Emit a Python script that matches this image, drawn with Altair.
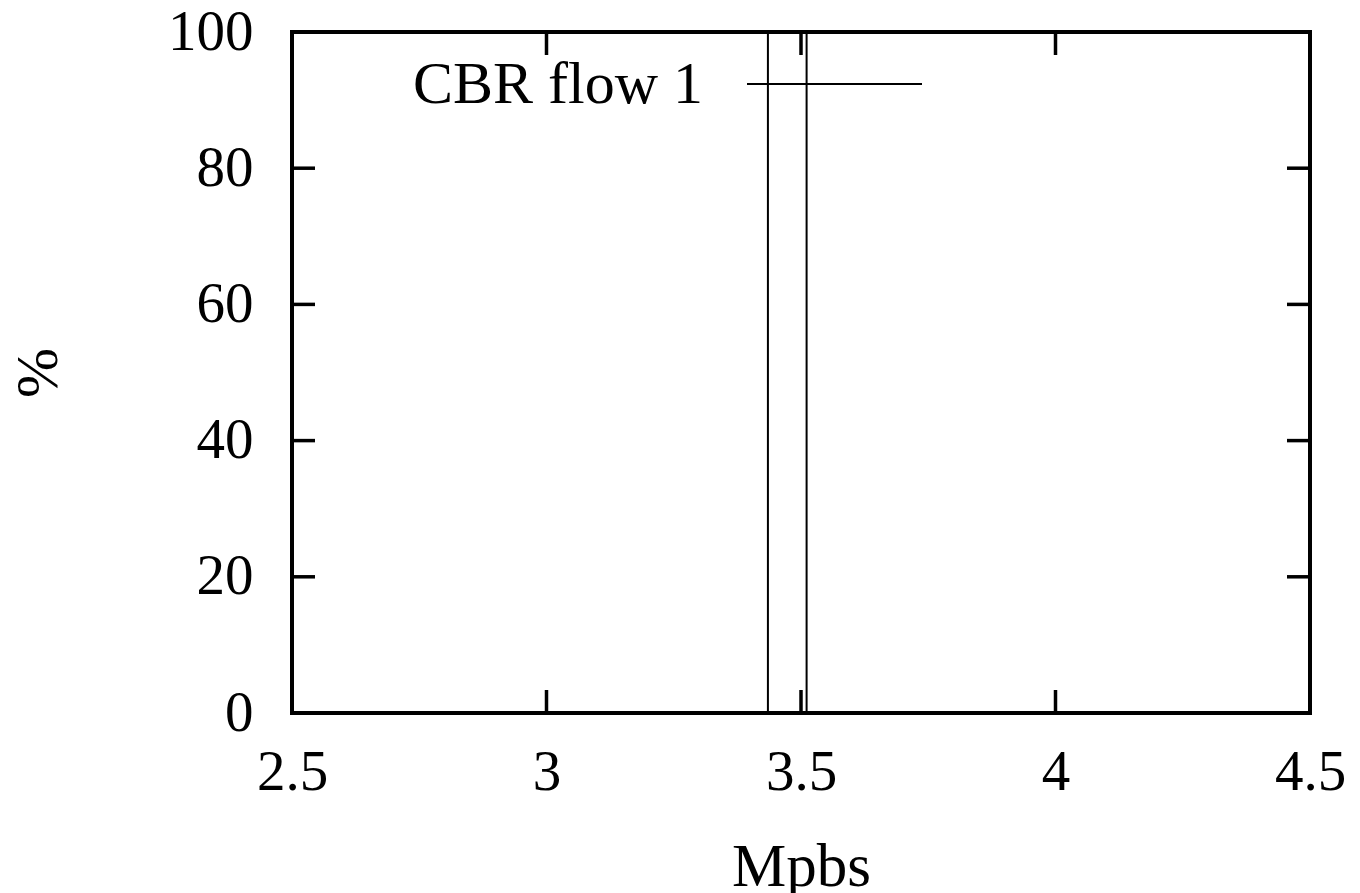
import altair as alt
import pandas as pd

# data
bar_start = [3.435]
bar_end = [3.511]
bar_pct = [100]
series_name = "CBR flow 1"
x_ticks = [2.5, 3.0, 3.5, 4.0, 4.5]
y_ticks = [0, 20, 40, 60, 80, 100]
x_title = "Mpbs"
y_title = "%"

W, H = 1018, 681
FONT = "Liberation Serif"
TICK_LEN = 23

bars = pd.DataFrame({"x": bar_start, "x2": bar_end, "y": bar_pct, "name": [series_name]})
xt = pd.DataFrame({"v": x_ticks})
yt = pd.DataFrame({"v": y_ticks})

xscale = alt.Scale(domain=[2.5, 4.5], nice=False, zero=False)
yscale = alt.Scale(domain=[0, 100], nice=False)

xaxis = alt.Axis(values=x_ticks, labelExpr="datum.value == 3 || datum.value == 4 ? format(datum.value, 'd') : format(datum.value, '.1f')",
                 ticks=False, tickSize=0, domain=False, grid=False,
                 labelFont=FONT, labelFontSize=57, labelColor="black",
                 labelBaseline="alphabetic", labelPadding=76, labelFlush=False,
                 title=x_title, titleFont=FONT, titleFontSize=61, titleFontWeight="normal",
                 titleColor="black", titleBaseline="alphabetic", titleY=172, titleX=W / 2,
                 titleAlign="center")
yaxis = alt.Axis(values=y_ticks, format="d", ticks=False, tickSize=0, domain=False, grid=False,
                 labelFont=FONT, labelFontSize=57, labelColor="black",
                 labelAlign="right", labelBaseline="middle", labelPadding=39, labelFlush=False,
                 title=y_title, titleFont=FONT, titleFontSize=60, titleFontWeight="normal",
                 titleColor="black", titleAngle=-90, titleBaseline="alphabetic",
                 titleX=-236, titleY=H / 2, titleAlign="center")

bar = alt.Chart(bars).mark_rect(filled=False, stroke="black", strokeWidth=2).encode(
    x=alt.X("x:Q", scale=xscale, axis=xaxis),
    x2="x2:Q",
    y=alt.Y("y:Q", scale=yscale, axis=yaxis),
    y2=alt.datum(0),
)

tick_style = dict(color="black", strokeWidth=3.5)
xb = alt.Chart(xt).mark_rule(**tick_style).encode(
    x=alt.X("v:Q", scale=xscale), y=alt.value(H), y2=alt.value(H - TICK_LEN))
xtp = alt.Chart(xt).mark_rule(**tick_style).encode(
    x=alt.X("v:Q", scale=xscale), y=alt.value(0), y2=alt.value(TICK_LEN))
yl = alt.Chart(yt).mark_rule(**tick_style).encode(
    y=alt.Y("v:Q", scale=yscale), x=alt.value(0), x2=alt.value(TICK_LEN))
yr = alt.Chart(yt).mark_rule(**tick_style).encode(
    y=alt.Y("v:Q", scale=yscale), x=alt.value(W), x2=alt.value(W - TICK_LEN))

leg = pd.DataFrame({"name": [series_name]})
leg_text = alt.Chart(leg).mark_text(font=FONT, fontSize=60, align="right", baseline="alphabetic",
                                    color="black").encode(
    text="name:N", x=alt.value(411), y=alt.value(71))
leg_line = alt.Chart(leg).mark_rule(color="black", strokeWidth=2).encode(
    x=alt.value(455), x2=alt.value(630), y=alt.value(52))

chart = alt.layer(bar, xb, xtp, yl, yr, leg_text, leg_line).properties(
    width=W, height=H,
    autosize=alt.AutoSizeParams(type="none"),
    padding={"left": 284, "top": 24, "right": 40, "bottom": 200},
).configure(background="white").configure_view(stroke="black", strokeWidth=4)

chart.save("out.html", embed_options={"renderer": "svg", "actions": False})
